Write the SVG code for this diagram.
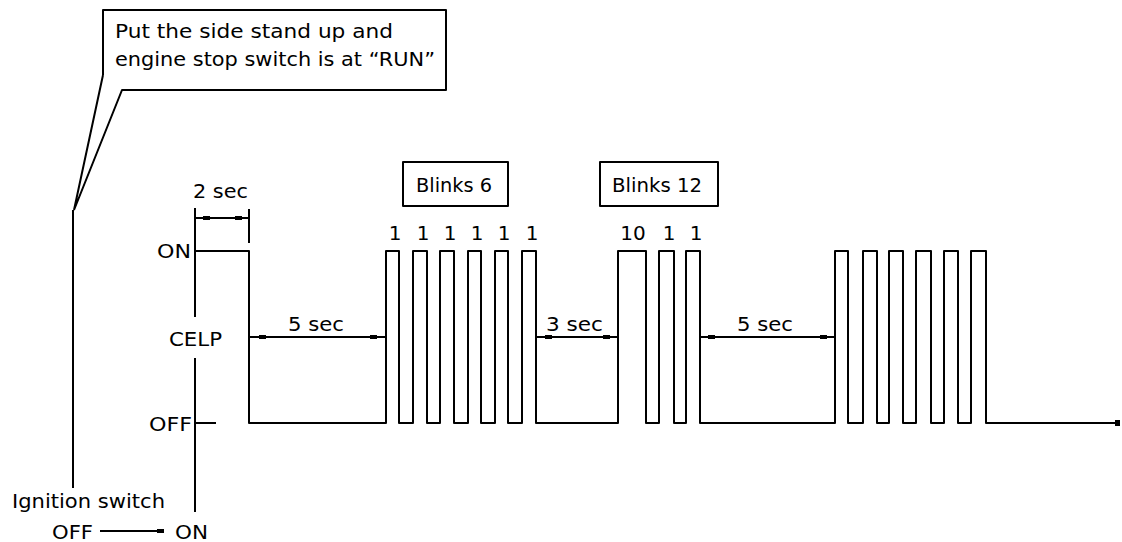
<svg xmlns="http://www.w3.org/2000/svg" width="1122" height="542" viewBox="0 0 1122 542">
<style>
.ln{fill:none;stroke:#000;stroke-width:2;stroke-linejoin:round}
.t{font-family:"DejaVu Sans","Liberation Sans",sans-serif;font-size:20px;fill:#000}
.c{font-size:19px}
.m{fill:#000}
</style>
<rect width="1122" height="542" fill="#fff"/>
<g id="callout">
<path class="ln" d="M103,75 L103,10 L446,10 L446,90 L122,90 L74,210 M103,75 L74,210 M73,210 L73,488"/>
<text class="t c" x="115" y="38" textLength="278" lengthAdjust="spacingAndGlyphs">Put the side stand up and</text>
<text class="t c" x="115" y="66" textLength="320" lengthAdjust="spacingAndGlyphs">engine stop switch is at “RUN”</text>
</g>
<g id="axis">
<path class="ln" d="M195,208 L195,317 M195,358 L195,512 M195,423 L216,423"/>
<text class="t" x="157" y="258" textLength="34" lengthAdjust="spacingAndGlyphs">ON</text>
<text class="t" x="169" y="346" textLength="53" lengthAdjust="spacingAndGlyphs">CELP</text>
<text class="t" x="149" y="431" textLength="43" lengthAdjust="spacingAndGlyphs">OFF</text>
</g>
<g id="ignition">
<text class="t" x="12" y="508" textLength="153" lengthAdjust="spacingAndGlyphs">Ignition switch</text>
<text class="t" x="52" y="539" textLength="41" lengthAdjust="spacingAndGlyphs">OFF</text>
<path class="ln" d="M100,531 L163,531"/>
<rect class="m" x="157" y="529" width="7" height="4"/>
<text class="t" x="175" y="539" textLength="33" lengthAdjust="spacingAndGlyphs">ON</text>
</g>
<g id="waveform">
<path class="ln" d="M195,251 L249,251 L249,423 L386,423 L386,251 L399,251 L399,423 L413,423 L413,251 L427,251 L427,423 L440,423 L440,251 L454,251 L454,423 L468,423 L468,251 L481,251 L481,423 L495,423 L495,251 L508,251 L508,423 L522,423 L522,251 L536,251 L536,423 L618,423 L618,251 L646,251 L646,423 L659,423 L659,251 L674,251 L674,423 L686,423 L686,251 L700,251 L700,423 L835,423 L835,251 L848,251 L848,423 L863,423 L863,251 L877,251 L877,423 L889,423 L889,251 L903,251 L903,423 L916,423 L916,251 L931,251 L931,423 L944,423 L944,251 L958,251 L958,423 L971,423 L971,251 L986,251 L986,423 L1117,423"/>
<rect class="m" x="1115" y="420" width="5" height="6"/>
</g>
<g id="dimensions">
<path class="ln" d="M249,209 L249,243 M195,218 L249,218 M249,337 L386,337 M536,337 L618,337 M700,337 L835,337"/>
<rect class="m" x="203" y="216" width="7" height="4"/>
<rect class="m" x="235" y="216" width="7" height="4"/>
<rect class="m" x="259" y="335" width="7" height="4"/>
<rect class="m" x="370" y="335" width="7" height="4"/>
<rect class="m" x="545" y="335" width="7" height="4"/>
<rect class="m" x="603" y="335" width="7" height="4"/>
<rect class="m" x="708" y="335" width="7" height="4"/>
<rect class="m" x="820" y="335" width="7" height="4"/>
<text class="t" x="193" y="198" textLength="55" lengthAdjust="spacingAndGlyphs">2 sec</text>
<text class="t" x="288" y="331" textLength="56" lengthAdjust="spacingAndGlyphs">5 sec</text>
<text class="t" x="546" y="331" textLength="57" lengthAdjust="spacingAndGlyphs">3 sec</text>
<text class="t" x="737" y="331" textLength="56" lengthAdjust="spacingAndGlyphs">5 sec</text>
</g>
<g id="blinks6">
<rect class="ln" x="403" y="162" width="105" height="44"/>
<text class="t" x="416" y="192" textLength="76" lengthAdjust="spacingAndGlyphs">Blinks 6</text>
<text class="t" x="395" y="240" text-anchor="middle">1</text>
<text class="t" x="423" y="240" text-anchor="middle">1</text>
<text class="t" x="450" y="240" text-anchor="middle">1</text>
<text class="t" x="477" y="240" text-anchor="middle">1</text>
<text class="t" x="504" y="240" text-anchor="middle">1</text>
<text class="t" x="532" y="240" text-anchor="middle">1</text>
</g>
<g id="blinks12">
<rect class="ln" x="600" y="162" width="118" height="44"/>
<text class="t" x="612" y="192" textLength="90" lengthAdjust="spacingAndGlyphs">Blinks 12</text>
<text class="t" x="633" y="240" text-anchor="middle">10</text>
<text class="t" x="669" y="240" text-anchor="middle">1</text>
<text class="t" x="696" y="240" text-anchor="middle">1</text>
</g>
</svg>
